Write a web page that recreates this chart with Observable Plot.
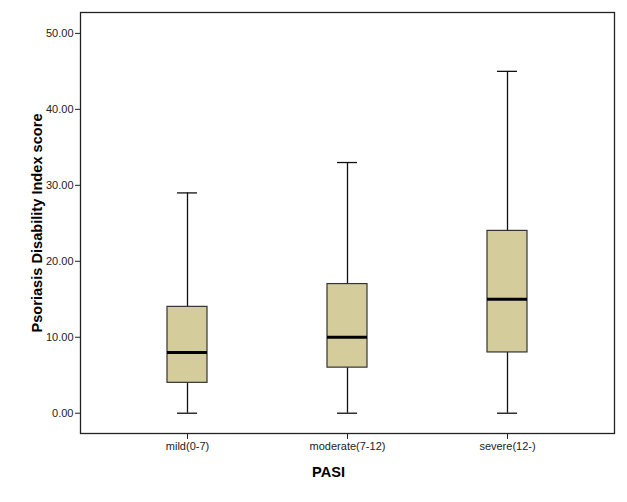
<!DOCTYPE html>
<html>
<head>
<meta charset="utf-8">
<script src="https://cdn.jsdelivr.net/npm/d3@7"></script>
<script src="https://cdn.jsdelivr.net/npm/@observablehq/plot@0.6"></script>
<style>
  html, body { margin: 0; padding: 0; background: #fff; }
  svg { font-family: "Liberation Sans", Arial, sans-serif; }
</style>
</head>
<body>
<div id="chart"></div>
<script>
const categories = ["mild(0-7)", "moderate(7-12)", "severe(12-)"];
const minValues = [0, 0, 0];
const q1Values = [4, 6, 8];
const medianValues = [8, 10, 15];
const q3Values = [14, 17, 24];
const maxValues = [29, 33, 45];
const yTicks = [0, 10, 20, 30, 40, 50];

const data = categories.map((c, i) => ({
  cat: c, min: minValues[i], q1: q1Values[i], med: medianValues[i], q3: q3Values[i], max: maxValues[i]
}));

const chart = Plot.plot({
  width: 627,
  height: 502,
  marginLeft: 80,
  marginRight: 13,
  marginTop: 12,
  marginBottom: 69,
  style: { fontFamily: "'Liberation Sans', Arial, sans-serif", fontSize: "11px", color: "#222", background: "#fff" },
  x: { type: "band", domain: categories, paddingInner: 0.75, paddingOuter: 0.54, label: null },
  y: { domain: [-2.67, 52.75], label: null },
  marks: [
    Plot.frame({ stroke: "#222", strokeWidth: 1.3 }),
    Plot.axisY({ ticks: yTicks, tickFormat: d => d.toFixed(2), tickSize: 5, tickPadding: 2, stroke: "#222", label: null }),
    Plot.axisX({ tickSize: 6, tickPadding: 3, stroke: "#222", label: null }),
    Plot.ruleX(data, { x: "cat", y1: "min", y2: "q1", stroke: "#111", strokeWidth: 1.3 }),
    Plot.ruleX(data, { x: "cat", y1: "q3", y2: "max", stroke: "#111", strokeWidth: 1.3 }),
    Plot.tickY(data, { x: "cat", y: "min", stroke: "#111", strokeWidth: 1.3, insetLeft: 10, insetRight: 10 }),
    Plot.tickY(data, { x: "cat", y: "max", stroke: "#111", strokeWidth: 1.3, insetLeft: 10, insetRight: 10 }),
    Plot.barY(data, { x: "cat", y1: "q1", y2: "q3", fill: "#d4cd9b", stroke: "#333", strokeWidth: 1.2 }),
    Plot.tickY(data, { x: "cat", y: "med", stroke: "#000", strokeWidth: 3 }),
    Plot.text(["Psoriasis Disability Index score"], {
      text: d => d, frameAnchor: "left", textAnchor: "middle", dx: -43, rotate: -90,
      fontWeight: "bold", fontSize: 14.6, fill: "#000"
    }),
    Plot.text(["PASI"], {
      text: d => d, frameAnchor: "bottom", textAnchor: "middle", dx: -19, dy: 43,
      fontWeight: "bold", fontSize: 14.6, fill: "#000"
    })
  ]
});
document.getElementById("chart").appendChild(chart);
</script>
</body>
</html>
